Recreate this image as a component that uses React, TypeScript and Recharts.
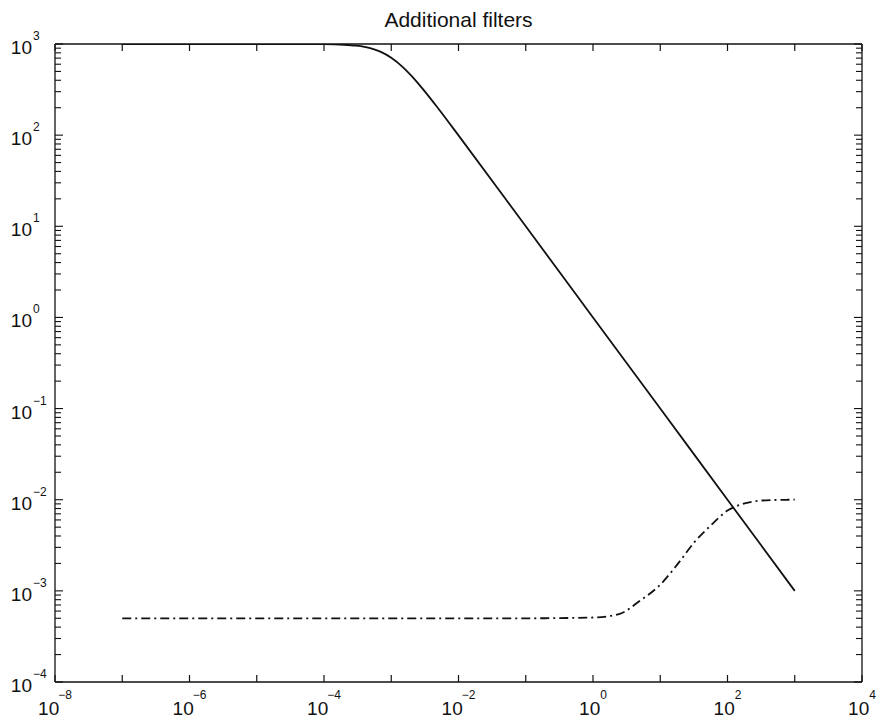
import { LineChart, Line, XAxis, YAxis } from 'recharts';

// Log-log frequency response, "Additional filters"

const INK = '#111';
const FONT = '"Liberation Sans", Arial, Helvetica, sans-serif';

// solid curve
const SOLID_X = [1e-7, 1e-6, 1e-5, 1e-4, 2e-4, 3e-4, 5e-4, 7e-4, 1e-3, 1.5e-3, 2e-3, 3e-3, 5e-3, 1e-2, 1e-1, 1, 10, 100, 1000];
const SOLID_Y = [1000, 1000, 1000, 995, 981, 958, 894, 819, 707, 555, 447, 316, 196, 99.5, 10, 1, 0.1, 0.01, 0.001];

// dash-dot curve
const DASH_X = [1e-7, 1e-6, 1e-5, 1e-4, 1e-3, 1e-2, 1e-1, 1, 2.5, 5, 10, 18, 32, 56, 100, 180, 320, 560, 1000];
const DASH_Y = [5e-4, 5e-4, 5e-4, 5e-4, 5e-4, 5e-4, 5e-4, 5.1e-4, 5.6e-4, 7.8e-4, 1.17e-3, 1.95e-3, 3.4e-3, 5.2e-3, 7.6e-3, 9.1e-3, 9.8e-3, 9.95e-3, 1.0e-2];

// axis ticks
const X_TICKS = [1e-8, 1e-7, 1e-6, 1e-5, 1e-4, 1e-3, 1e-2, 1e-1, 1, 10, 100, 1000, 1e4];
const X_LABELED = [-8, -6, -4, -2, 0, 2, 4];
const Y_DECADES = [1e-4, 1e-3, 1e-2, 1e-1, 1, 10, 100, 1000];
const Y_TICKS = Y_DECADES.flatMap((d, i) =>
  i === Y_DECADES.length - 1 ? [d] : [1, 2, 3, 4, 5, 6, 7, 8, 9].map((m) => m * d)
);

const solidData = SOLID_X.map((x, i) => ({ x, y: SOLID_Y[i] }));
const dashData = DASH_X.map((x, i) => ({ x, y: DASH_Y[i] }));

const expOf = (v: number) => Math.round(Math.log10(v));
const isDecade = (v: number) => Math.abs(Math.log10(v) - expOf(v)) < 1e-6;
const fmtExp = (e: number) => (e < 0 ? `\u2212${-e}` : `${e}`);

function BottomTick({ x, y, payload }: any) {
  const e = expOf(payload.value);
  return (
    <g>
      <line x1={x} x2={x} y1={y} y2={y - 7} stroke={INK} strokeWidth={1.2} />
      {X_LABELED.includes(e) && (
        <text x={x} y={y + 33} textAnchor="middle" fontSize={19} fill={INK} fontFamily={FONT}>
          <tspan>10</tspan>
          <tspan fontSize={12} dy={-16} dx={e < 0 ? -1 : 0}>{fmtExp(e)}</tspan>
        </text>
      )}
    </g>
  );
}

function TopTick({ x, y }: any) {
  return <line x1={x} x2={x} y1={y} y2={y + 7} stroke={INK} strokeWidth={1.2} />;
}

function LeftTick({ x, y, payload }: any) {
  const v = payload.value;
  const major = isDecade(v);
  return (
    <g>
      <line x1={x} x2={x + (major ? 8 : 6)} y1={y} y2={y} stroke={INK} strokeWidth={1.1} />
      {major && (
        <g fill={INK} fontFamily={FONT}>
          <text x={x - 23} y={y + 10} textAnchor="end" fontSize={19}>10</text>
          <text x={x - 22} y={y - 4} textAnchor="start" fontSize={12}>{fmtExp(expOf(v))}</text>
        </g>
      )}
    </g>
  );
}

function RightTick({ x, y, payload }: any) {
  const major = isDecade(payload.value);
  return <line x1={x} x2={x - (major ? 8 : 6)} y1={y} y2={y} stroke={INK} strokeWidth={1.1} />;
}

const axisLine = { stroke: INK, strokeWidth: 1.3 };

export default function App() {
  return (
    <div style={{ position: 'absolute', left: 0, top: 0, width: 880, height: 721, background: '#fff' }}>
      <div
        style={{
          position: 'absolute',
          top: 10,
          left: 55,
          width: 807,
          textAlign: 'center',
          fontFamily: FONT,
          fontSize: 21,
          lineHeight: '20px',
          color: INK,
        }}
      >
        Additional filters
      </div>
      <LineChart width={880} height={721} margin={{ top: 43, right: 17, bottom: 1, left: 5 }}>
        <XAxis
          xAxisId={0}
          dataKey="x"
          type="number"
          scale="log"
          domain={[1e-8, 1e4]}
          allowDataOverflow
          ticks={X_TICKS}
          interval={0}
          height={38}
          tickSize={0}
          tickMargin={0}
          tickLine={false}
          axisLine={axisLine}
          tick={(p: any) => <BottomTick {...p} />}
        />
        <XAxis
          xAxisId="top"
          orientation="top"
          dataKey="x"
          type="number"
          scale="log"
          domain={[1e-8, 1e4]}
          allowDataOverflow
          ticks={X_TICKS}
          interval={0}
          height={1}
          tickSize={0}
          tickMargin={0}
          tickLine={false}
          axisLine={axisLine}
          tick={(p: any) => <TopTick {...p} />}
        />
        <YAxis
          yAxisId={0}
          type="number"
          scale="log"
          domain={[1e-4, 1e3]}
          allowDataOverflow
          ticks={Y_TICKS}
          interval={0}
          width={50}
          tickSize={0}
          tickMargin={0}
          tickLine={false}
          axisLine={axisLine}
          tick={(p: any) => <LeftTick {...p} />}
        />
        <YAxis
          yAxisId="right"
          orientation="right"
          type="number"
          scale="log"
          domain={[1e-4, 1e3]}
          allowDataOverflow
          ticks={Y_TICKS}
          interval={0}
          width={1}
          tickSize={0}
          tickMargin={0}
          tickLine={false}
          axisLine={axisLine}
          tick={(p: any) => <RightTick {...p} />}
        />
        <Line
          data={solidData}
          dataKey="y"
          type="monotone"
          stroke={INK}
          strokeWidth={1.8}
          dot={false}
          isAnimationActive={false}
        />
        <Line
          data={dashData}
          dataKey="y"
          type="monotone"
          stroke={INK}
          strokeWidth={1.8}
          strokeDasharray="9 4 2 4"
          dot={false}
          isAnimationActive={false}
        />
        <Line
          data={solidData}
          dataKey="y"
          xAxisId="top"
          yAxisId="right"
          stroke="none"
          dot={false}
          legendType="none"
          isAnimationActive={false}
        />
      </LineChart>
    </div>
  );
}
